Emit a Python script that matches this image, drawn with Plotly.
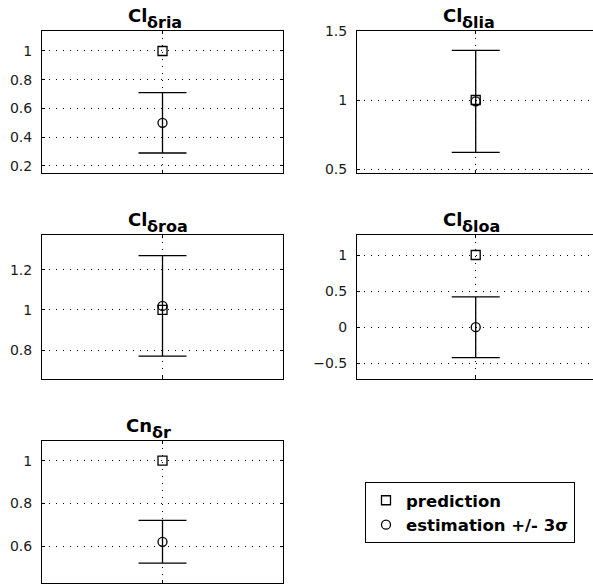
import plotly.graph_objects as go

# ---------------- data ----------------
title_main = ["Cl", "Cl", "Cl", "Cl", "Cn"]
title_sub = ["δria", "δlia", "δroa", "δloa", "δr"]
x_pos = [1]
prediction = [1.0, 1.0, 1.0, 1.0, 1.0]
estimation = [0.50, 0.99, 1.02, 0.0, 0.62]
three_sigma = [0.21, 0.37, 0.25, 0.42, 0.10]
y_ranges = [[0.151, 1.139], [0.471, 1.5], [0.656, 1.373], [-0.717, 1.277], [0.427, 1.092]]
y_tickvals = [[0.2, 0.4, 0.6, 0.8, 1.0], [0.5, 1.0, 1.5], [0.8, 1.0, 1.2],
              [-0.5, 0.0, 0.5, 1.0], [0.6, 0.8, 1.0]]
y_ticktext = [["0.2", "0.4", "0.6", "0.8", "1"], ["0.5", "1", "1.5"], ["0.8", "1", "1.2"],
              ["−0.5", "0", "0.5", "1"], ["0.6", "0.8", "1"]]

# ---------------- layout geometry (px) ----------------
W, H = 593, 585
cols = [(42, 283), (357, 593)]
rows = [(31, 173), (235, 379), (441, 583)]
panel_pos = [(0, 0), (1, 0), (0, 1), (1, 1), (0, 2)]
x_ranges = [[0, 2], [0, 1.988]]
title_split = [-16, -14, -16, -14, -11]

FONT = "DejaVu Sans"
fig = go.Figure()
layout = dict(width=W, height=H, margin=dict(l=0, r=0, t=0, b=0, autoexpand=False),
              paper_bgcolor="white", plot_bgcolor="white", showlegend=True)
annotations = []

for i in range(5):
    n = i + 1
    sfx = "" if n == 1 else str(n)
    c, r = panel_pos[i]
    x0, x1 = cols[c]
    y0, y1 = rows[r]
    right = (c == 1)
    fig.add_trace(go.Scatter(
        x=x_pos, y=[estimation[i]], mode="markers", name="estimation +/- 3σ",
        legendrank=2, showlegend=(i == 0),
        marker=dict(symbol="circle-open", size=9, color="black", line=dict(width=1.3, color="black")),
        error_y=dict(type="data", array=[three_sigma[i]], color="black", thickness=1.3, width=24),
        xaxis="x" + sfx, yaxis="y" + sfx, hoverinfo="skip"))
    fig.add_trace(go.Scatter(
        x=x_pos, y=[prediction[i]], mode="markers", name="prediction",
        legendrank=1, showlegend=(i == 0),
        marker=dict(symbol="square-open", size=9, color="black", line=dict(width=1.3, color="black")),
        xaxis="x" + sfx, yaxis="y" + sfx, hoverinfo="skip"))
    layout["xaxis" + sfx] = dict(
        domain=[x0 / W, x1 / W], range=x_ranges[c], anchor="y" + sfx,
        tickvals=x_pos, showticklabels=False, ticks="inside", ticklen=3, tickcolor="black",
        showgrid=True, gridcolor="black", griddash="1px,6px", gridwidth=1,
        showline=True, linecolor="black", linewidth=1, mirror="ticks", zeroline=False,
        fixedrange=True, automargin=False)
    layout["yaxis" + sfx] = dict(
        domain=[1 - y1 / H, 1 - y0 / H], range=y_ranges[i], anchor="x" + sfx,
        tickvals=y_tickvals[i], ticktext=y_ticktext[i], ticks="inside", ticklen=3,
        tickcolor="black", ticklabelstandoff=6,
        tickfont=dict(family=FONT, size=14, color="#1a1a1a"),
        showgrid=True, gridcolor="black", griddash="1px,6px", gridwidth=1,
        showline=True, linecolor="black", linewidth=1,
        mirror=(False if right else "ticks"), zeroline=False, fixedrange=True, automargin=False)
    annotations.append(dict(
        text=title_main[i], xref="x" + sfx, x=1, yref="y" + sfx + " domain", y=1,
        xanchor="right", yanchor="middle", xshift=title_split[i] + 2, yshift=16, showarrow=False,
        font=dict(family=FONT, size=18, color="black", weight="bold")))
    annotations.append(dict(
        text=title_sub[i], xref="x" + sfx, x=1, yref="y" + sfx + " domain", y=1,
        xanchor="left", yanchor="middle", xshift=title_split[i] - 2, yshift=8.5, showarrow=False,
        font=dict(family=FONT, size=16, color="black", weight="bold")))

layout["annotations"] = annotations
layout["legend"] = dict(
    x=365 / W, y=1 - 482 / H, xanchor="left", yanchor="top",
    bgcolor="white", bordercolor="black", borderwidth=1, itemwidth=30,
    font=dict(family=FONT, size=16.5, color="black", weight="bold"))
fig.update_layout(**layout)
fig.write_html("out.html", config={"displayModeBar": False},
               post_script="document.body.style.margin='0px';")
